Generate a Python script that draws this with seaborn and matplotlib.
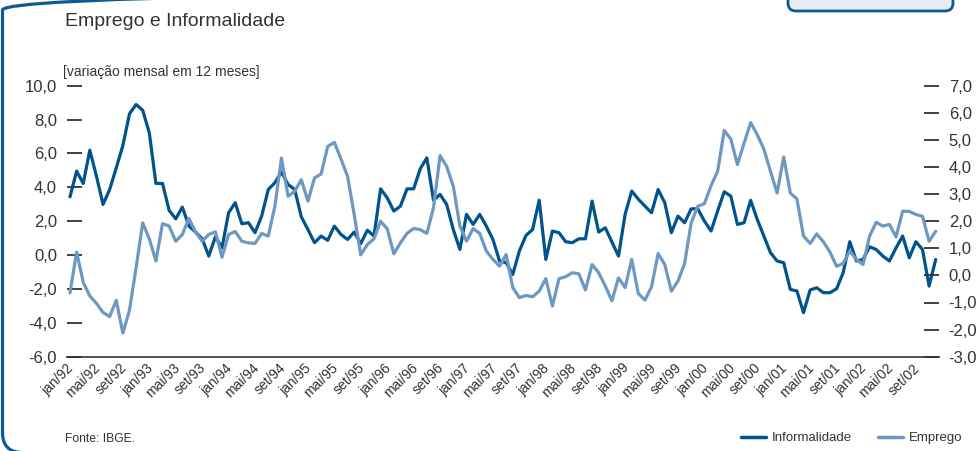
import numpy as np
import pandas as pd
import matplotlib
matplotlib.use("Agg")
import matplotlib.pyplot as plt
import matplotlib.transforms as mtrans
from matplotlib.patches import FancyBboxPatch
from matplotlib.lines import Line2D
import seaborn as sns

# variação mensal em 12 meses, jan/92 .. dez/02
informalidade = [
    3.44, 4.96, 4.23, 6.19, 4.66, 2.99, 3.87, 5.15, 6.47, 8.34, 8.89, 8.55,
    7.22, 4.23, 4.23, 2.64, 2.14, 2.83, 1.71, 1.36, 0.96, -0.06, 1.08, 0.43,
    2.50, 3.09, 1.85, 1.91, 1.32, 2.30, 3.87, 4.27, 4.90, 4.17, 3.87, 2.26,
    1.51, 0.73, 1.12, 0.87, 1.71, 1.22, 0.92, 1.36, 0.68, 1.47, 1.12, 3.91,
    3.38, 2.60, 2.89, 3.91, 3.91, 5.09, 5.74, 3.24, 3.58, 2.99, 1.51, 0.33,
    2.40, 1.81, 2.40, 1.71, 0.92, -0.35, -0.45, -1.14, 0.24, 1.16, 1.51, 3.24,
    -0.26, 1.42, 1.32, 0.79, 0.73, 0.96, 0.96, 3.19, 1.36, 1.61, 0.77, -0.06,
    2.40, 3.78, 3.30, 2.89, 2.50, 3.87, 3.09, 1.32, 2.30, 1.91, 2.73, 2.73,
    2.01, 1.42, 2.60, 3.74, 3.48, 1.81, 1.91, 3.23, 2.10, 1.12, 0.14, -0.35,
    -0.45, -2.03, -2.12, -3.40, -2.06, -1.93, -2.22, -2.22, -1.99, -1.04, 0.79, -0.35,
    -0.26, 0.49, 0.33, -0.06, -0.35, 0.43, 1.12, -0.16, 0.79, 0.33, -1.83, -0.26,
]
emprego = [
    -0.64, 0.86, -0.25, -0.76, -1.03, -1.37, -1.52, -0.92, -2.13, -1.28, 0.28, 1.94,
    1.35, 0.53, 1.91, 1.82, 1.26, 1.51, 2.10, 1.60, 1.26, 1.51, 1.61, 0.67,
    1.51, 1.62, 1.26, 1.20, 1.18, 1.55, 1.45, 2.55, 4.33, 2.92, 3.10, 3.53,
    2.74, 3.60, 3.74, 4.76, 4.91, 4.30, 3.66, 2.25, 0.76, 1.14, 1.35, 2.00,
    1.72, 0.80, 1.20, 1.55, 1.73, 1.69, 1.55, 2.49, 4.42, 4.02, 3.29, 1.82,
    1.26, 1.73, 1.55, 0.90, 0.59, 0.34, 0.77, -0.45, -0.82, -0.74, -0.79, -0.58,
    -0.12, -1.13, -0.12, -0.05, 0.10, 0.06, -0.54, 0.40, 0.10, -0.39, -0.94, -0.09,
    -0.45, 0.59, -0.67, -0.91, -0.42, 0.81, 0.40, -0.58, -0.21, 0.44, 1.94, 2.55,
    2.65, 3.31, 3.84, 5.35, 5.03, 4.09, 4.88, 5.64, 5.19, 4.66, 3.84, 3.04,
    4.37, 3.04, 2.82, 1.45, 1.18, 1.53, 1.24, 0.86, 0.34, 0.44, 0.90, 0.59,
    0.40, 1.45, 1.96, 1.82, 1.88, 1.42, 2.37, 2.36, 2.25, 2.18, 1.26, 1.63,
]
x_labels = [
    "jan/92", "mai/92", "set/92", "jan/93", "mai/93", "set/93", "jan/94", "mai/94",
    "set/94", "jan/95", "mai/95", "set/95", "jan/96", "mai/96", "set/96", "jan/97",
    "mai/97", "set/97", "jan/98", "mai/98", "set/98", "jan/99", "mai/99", "set/99",
    "jan/00", "mai/00", "set/00", "jan/01", "mai/01", "set/01", "jan/02", "mai/02",
    "set/02",
]
left_ticks = [-6, -4, -2, 0, 2, 4, 6, 8, 10]
right_ticks = [-3, -2, -1, 0, 1, 2, 3, 4, 5, 6, 7]

DARK = "#00538c"
LIGHT = "#6e98c4"
FRAME = "#0b5a94"
TXT = "#333333"

df = pd.DataFrame({"mes": np.arange(len(informalidade)),
                   "Informalidade": informalidade,
                   "Emprego": emprego})


def fmt(v):
    return f"{v:.1f}".replace(".", ",")


sns.set_style("white")
plt.rcParams["font.family"] = ["Liberation Sans", "DejaVu Sans"]

fig = plt.figure(figsize=(9.78, 4.51), dpi=100)
ax = fig.add_axes([66.7 / 978, 1 - 356.7 / 451, (939 - 66.7) / 978, (356.7 - 85.7) / 451])
ax2 = ax.twinx()

sns.lineplot(data=df, x="mes", y="Informalidade", ax=ax, color=DARK, linewidth=2.3)
sns.lineplot(data=df, x="mes", y="Emprego", ax=ax2, color=LIGHT, linewidth=2.3)

n = len(informalidade)
ax.set_xlim(-0.5, n - 0.5)
ax.set_ylim(-6, 10)
ax2.set_ylim(-3, 7)

ax.set_xticks(np.arange(0, n + 1, 4) - 0.5)
ax.set_xticklabels(x_labels + [""], rotation=45, ha="right", rotation_mode="anchor",
                   fontsize=10, color=TXT)
ax.tick_params(axis="x", direction="in", length=9, width=1.2, color=TXT, pad=3)

ax.set_yticks(left_ticks)
ax.set_yticklabels([fmt(v) for v in left_ticks], fontsize=12, color=TXT)
ax.tick_params(axis="y", direction="in", length=11, width=1.3, color=TXT, pad=7)
ax2.set_yticks(right_ticks)
ax2.set_yticklabels([fmt(v) for v in right_ticks], fontsize=12, color=TXT)
ax2.tick_params(axis="y", direction="in", length=11, width=1.3, color=TXT, pad=7)

for s in ["left", "right", "top"]:
    ax.spines[s].set_visible(False)
for s in ax2.spines.values():
    s.set_visible(False)
ax.spines["bottom"].set_color(TXT)
ax.spines["bottom"].set_linewidth(1.2)
ax.set_xlabel("")
ax.set_ylabel("")
ax2.set_ylabel("")
ax.grid(False)
ax2.grid(False)

fig.text(65 / 978, 1 - 26 / 451, "Emprego e Informalidade", fontsize=14,
         color=TXT, va="baseline")
fig.text(63 / 978, 1 - 76 / 451, "[variação mensal em 12 meses]", fontsize=10,
         color=TXT, va="baseline")
fig.text(65 / 978, 1 - 442 / 451, "Fonte: IBGE.", fontsize=8.7, color=TXT,
         va="baseline")

handles = [Line2D([], [], color=DARK, lw=2.5), Line2D([], [], color=LIGHT, lw=2.5)]
fig.legend(handles, ["Informalidade", "Emprego"], loc="center right",
           bbox_to_anchor=(974 / 978, 1 - 438 / 451), ncol=2, frameon=False,
           fontsize=9.5, handlelength=1.9, handletextpad=0.4, columnspacing=2.0,
           labelcolor=TXT)

# moldura
ident = mtrans.IdentityTransform()
fig.add_artist(FancyBboxPatch((2.5, -1.5), 1200, 462.5,
                              boxstyle="round,pad=0,rounding_size=20",
                              linewidth=2.3, edgecolor=FRAME, facecolor="none",
                              transform=ident))
fig.add_artist(FancyBboxPatch((788, 440), 165, 40,
                              boxstyle="round,pad=0,rounding_size=8",
                              linewidth=2.0, edgecolor=FRAME, facecolor="#e8edf5",
                              transform=ident))

fig.savefig("out.png", dpi=100)
